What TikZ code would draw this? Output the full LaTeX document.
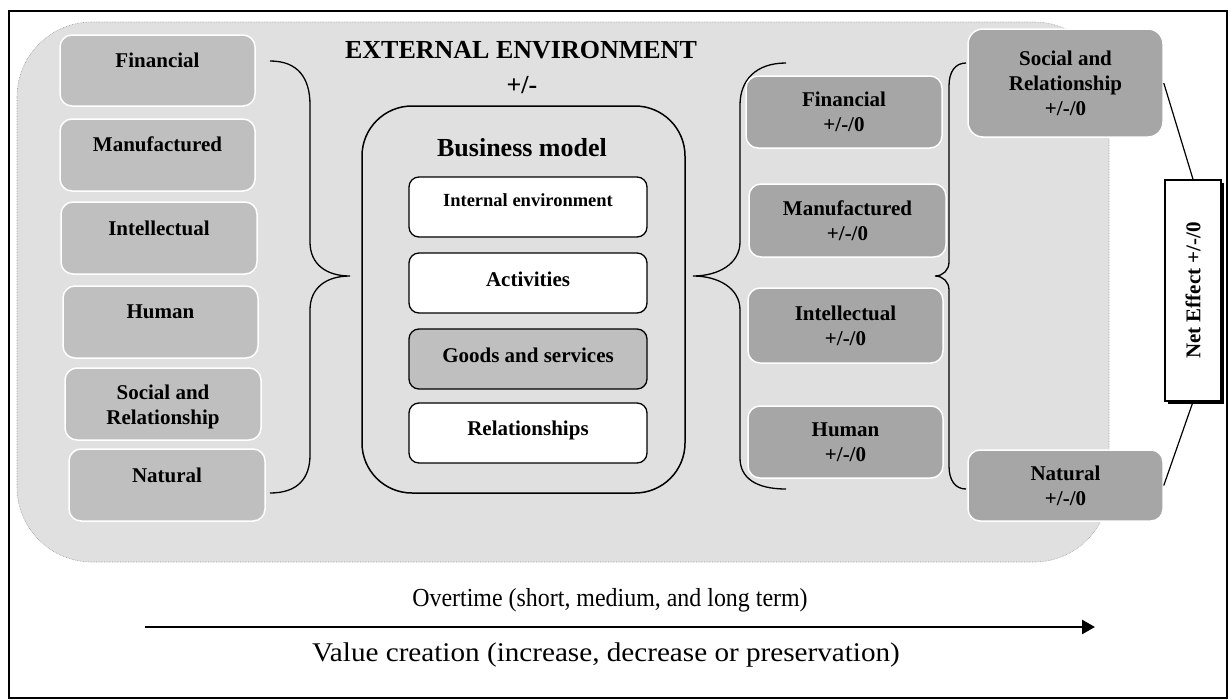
\documentclass[tikz,border=0pt]{standalone}
\usepackage{fontspec}
\setmainfont{Liberation Serif}
\usetikzlibrary{arrows.meta,shadows}
\definecolor{bggray}{RGB}{224,224,224}
\definecolor{lgray}{RGB}{191,191,191}
\definecolor{dgray}{RGB}{166,166,166}
\begin{document}
\begin{tikzpicture}[x=1pt,y=-1pt,
  lbox/.style={draw=white, line width=1.5pt, fill=lgray, rounded corners=12pt, inner sep=0pt},
  rbox/.style={draw=white, line width=1.5pt, fill=dgray, rounded corners=12pt, inner sep=0pt,
    font=\fontsize{21}{25}\selectfont\bfseries, align=center},
  ibox/.style={draw=black, line width=1.3pt, fill=white, rounded corners=10pt, inner sep=0pt,
    minimum width=238pt, minimum height=60pt},
  txt/.style={font=\fontsize{21}{25}\selectfont\bfseries, align=center, inner sep=0pt},
  bigtxt/.style={font=\fontsize{26}{30}\selectfont\bfseries, align=center, inner sep=0pt},
  plain/.style={align=center, inner sep=0pt},
  bracel/.style={draw=black, line width=1.3pt}
]
\useasboundingbox (0,0) rectangle (1231,699);
% outer frame
\draw[line width=1.5pt] (9,11) rectangle (1227,698);
% external environment area
\draw[fill=bggray, draw=gray!80, densely dotted, line width=0.6pt, rounded corners=75pt] (17,22) rectangle (1109,562);

\node[bigtxt] (ext) at (521,50) {EXTERNAL ENVIRONMENT};
\node[bigtxt] (extpm) at (522,85) {+/-};

% left capitals
\node[lbox, minimum width=195pt, minimum height=71pt] (lfin) at (157.5,70.5) {};
\node[txt] (lfint) at (157.5,60) {Financial};
\node[lbox, minimum width=195pt, minimum height=72pt] (lman) at (157.5,155) {};
\node[txt] (lmant) at (157.5,144) {Manufactured};
\node[lbox, minimum width=196pt, minimum height=72pt] (lint) at (159,238) {};
\node[txt] (lintt) at (159,228) {Intellectual};
\node[lbox, minimum width=195pt, minimum height=72pt] (lhum) at (160.5,322) {};
\node[txt] (lhumt) at (160.5,312) {Human};
\node[lbox, minimum width=196pt, minimum height=72pt] (lsoc) at (163,404) {};
\node[txt] (lsoct) at (163,407) {Social and\\Relationship};
\node[lbox, minimum width=196pt, minimum height=72pt] (lnat) at (167,485) {};
\node[txt] (lnatt) at (167,475) {Natural};

% left brace
\draw[bracel] (270,61) .. controls (298,61) and (310,78) .. (310,105) -- (310,242)
  .. controls (310,264) and (326,276) .. (350,276)
  .. controls (326,276) and (310,288) .. (310,310) -- (310,455)
  .. controls (310,478) and (298,493) .. (270,493);

% business model
\draw[line width=1.5pt, rounded corners=50pt] (362,106) rectangle (685,493);
\node[bigtxt] (bm) at (522,148) {Business model};
\node[ibox] (ie) at (528,207) {};
\node[font=\fontsize{18.5}{22}\selectfont\bfseries, inner sep=0pt] (iet) at (528,200) {Internal environment};
\node[ibox] (act) at (528,283) {};
\node[txt] (actt) at (528,279) {Activities};
\node[ibox, fill=lgray] (gs) at (528,359) {};
\node[txt] (gst) at (528,355) {Goods and services};
\node[ibox] (rel) at (528,433) {};
\node[txt] (relt) at (528,430) {Relationships};

% middle brace
\draw[bracel] (786,63) .. controls (756,63) and (740,80) .. (740,105) -- (740,242)
  .. controls (740,264) and (718,276) .. (693,276)
  .. controls (718,276) and (740,288) .. (740,310) -- (740,458)
  .. controls (740,478) and (756,489) .. (786,489);

% right capitals
\node[rbox, minimum width=196pt, minimum height=72pt] (rfin) at (844,112) {Financial\\+/-/0};
\node[rbox, minimum width=197pt, minimum height=73pt] (rman) at (847.5,220.5) {Manufactured\\+/-/0};
\node[rbox, minimum width=195pt, minimum height=75pt] (rint) at (845.5,325.5) {Intellectual\\+/-/0};
\node[rbox, minimum width=195pt, minimum height=72pt] (rhum) at (845.5,442) {Human\\+/-/0};

% right brace
\draw[bracel] (966,63) .. controls (955,63) and (949,72) .. (949,86) -- (949,262)
  .. controls (949,270) and (943,276) .. (935,276)
  .. controls (943,276) and (949,282) .. (949,290) -- (949,466)
  .. controls (949,480) and (955,489) .. (966,489);

\node[rbox, rounded corners=15pt, minimum width=195pt, minimum height=108pt] (rsoc) at (1065.5,83) {Social and\\Relationship\\+/-/0};
\node[rbox, rounded corners=12pt, minimum width=195pt, minimum height=71pt] (rnat) at (1065.5,485.5) {Natural\\+/-/0};

% net effect
\node[draw=black, line width=1.5pt, fill=white, minimum width=56pt, minimum height=221pt,
  drop shadow={shadow xshift=2.5pt, shadow yshift=-2.5pt, fill=black, opacity=1}] (net) at (1193,290.5) {};
\node[txt, rotate=90] (nett) at (net.center) {Net Effect +/-/0};
\draw[line width=1.2pt] (rsoc.east) -- (net.north);
\draw[line width=1.2pt] (rnat.east) -- (net.south);

% time axis
\node[plain, font=\fontsize{26}{30}\selectfont, xscale=0.92] (over) at (610,600) {Overtime (short, medium, and long term)};
\coordinate (arrS) at (145,627);
\coordinate (arrE) at (1095,627);
\draw[line width=2.6pt, -{Triangle[length=13pt,width=14pt]}] (arrS) -- (arrE);
\node[plain, font=\fontsize{27}{31}\selectfont, xscale=1.08] (val) at (606,655) {Value creation (increase, decrease or preservation)};
\end{tikzpicture}
\end{document}
